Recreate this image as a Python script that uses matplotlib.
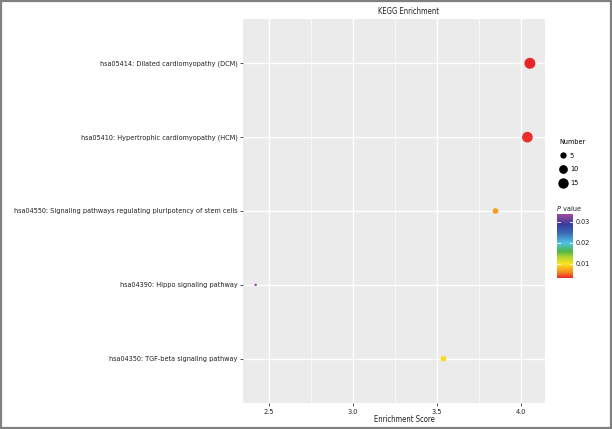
import matplotlib
matplotlib.use('Agg')
import matplotlib.pyplot as plt
import numpy as np
from matplotlib.colors import LinearSegmentedColormap, Normalize
from matplotlib.lines import Line2D
from matplotlib.patches import Rectangle
import matplotlib.font_manager as fm

# pick a narrow sans if one is installed, else Liberation Sans
narrow = None
for f in fm.fontManager.ttflist:
    st = str(f.stretch).lower()
    if f.weight in (400, 'normal', 'regular') and f.style == 'normal' and \
            ('narrow' in f.name.lower() or 'condensed' in f.name.lower()
             or st in ('condensed', 'semi-condensed', 'extra-condensed')):
        if 'mono' in f.name.lower() or 'serif' in f.name.lower() and 'sans' not in f.name.lower():
            continue
        narrow = f
        break
if narrow is not None:
    plt.rcParams['font.family'] = [narrow.name, 'DejaVu Sans']
    plt.rcParams['font.stretch'] = narrow.stretch
else:
    plt.rcParams['font.family'] = ['Liberation Sans', 'DejaVu Sans']

# data, bottom -> top
pathways = [
    'hsa04350: TGF-beta signaling pathway',
    'hsa04390: Hippo signaling pathway',
    'hsa04550: Signaling pathways regulating pluripotency of stem cells',
    'hsa05410: Hypertrophic cardiomyopathy (HCM)',
    'hsa05414: Dilated cardiomyopathy (DCM)',
]
enrich = [3.54, 2.42, 3.85, 4.04, 4.055]
number = [4, 2, 4, 16, 17]
pvalue = [0.0095, 0.0338, 0.0068, 0.0036, 0.0033]

size_breaks = [5, 10, 15]
p_ticks = [0.01, 0.02, 0.03]

# colour scale (bottom -> top of colour bar)
nodes = [0.0, 0.09, 0.22, 0.32, 0.42, 0.55, 0.70, 0.84, 1.0]
cols = ['#e8262a', '#f58a1f', '#fbe51f', '#b9d532', '#4fb64a', '#50c3e6',
        '#3b6cb7', '#3a3d9b', '#9d4a9e']
cmap = LinearSegmentedColormap.from_list('pv', list(zip(nodes, cols)))
norm = Normalize(vmin=min(pvalue), vmax=max(pvalue))

# ggplot-like size scale: diameter in px
nmin, nmax = min(number), max(number)
d_lo, d_hi = 2.5, 11.0
def diam_pt(v):
    t = (v - nmin) / (nmax - nmin)
    return (d_lo + np.sqrt(t) * (d_hi - d_lo)) * 0.72

W, H = 612, 429
fig = plt.figure(figsize=(W / 100, H / 100), dpi=100)

# fit font size so the longest label fits left of the panel
r = fig.canvas.get_renderer()
probe = fig.text(0, 0, max(pathways, key=len), fontsize=10)
wpx = probe.get_window_extent(r).width
probe.remove()
fs = min(6.5, 10 * 222 / wpx)

ax = fig.add_axes([243 / W, 1 - 403 / H, 302 / W, 384 / H])
ax.set_facecolor('#ebebeb')

ypos = np.arange(1, len(pathways) + 1)
sizes = [diam_pt(v) ** 2 for v in number]
ax.scatter(enrich, ypos, s=sizes, c=pvalue, cmap=cmap, norm=norm,
           linewidths=0, zorder=3)

ax.set_xlim(2.345, 4.145)
ax.set_ylim(0.4, 5.6)
ax.set_xticks([2.5, 3.0, 3.5, 4.0])
ax.set_xticks([2.75, 3.25, 3.75], minor=True)
ax.set_yticks(ypos, pathways)
ax.grid(which='major', color='white', lw=1.0)
ax.grid(which='minor', axis='x', color='white', lw=0.5)
ax.set_axisbelow(True)
for s in ax.spines.values():
    s.set_visible(False)
ax.tick_params(axis='both', which='major', length=2.5, width=0.6,
               color='#333333', labelsize=fs, labelcolor='#222222', pad=1.5)
ax.tick_params(axis='x', which='minor', length=0)

fig.text(408 / W, 1 - 11 / H, 'KEGG Enrichment', ha='center', va='center',
         fontsize=fs * 1.05, color='#222222')
fig.text(404 / W, 1 - 420 / H, 'Enrichment Score', ha='center', va='center',
         fontsize=fs * 1.05, color='#222222')

# size legend
handles = [Line2D([], [], ls='', marker='o', color='black',
                  markersize=diam_pt(b), markeredgewidth=0) for b in size_breaks]
leg = fig.legend(handles, [str(b) for b in size_breaks], title='Number',
                 loc='upper left', bbox_to_anchor=(554 / W, 1 - 134 / H),
                 frameon=False, fontsize=fs, title_fontsize=fs,
                 handlelength=1.0, handletextpad=0.5, labelspacing=1.05,
                 borderpad=0.2, alignment='left')

# colour bar
cax = fig.add_axes([557 / W, 1 - 278 / H, 16 / W, 64 / H])
sm = plt.cm.ScalarMappable(norm=norm, cmap=cmap)
cb = fig.colorbar(sm, cax=cax, ticks=p_ticks)
cb.outline.set_visible(False)
cb.ax.set_yticklabels([f'{t:.2f}' for t in p_ticks])
cb.ax.tick_params(length=0, labelsize=fs, labelcolor='#222222', pad=2)
for t in p_ticks:
    cax.axhline(t, xmin=0, xmax=0.2, color='white', lw=0.6)
    cax.axhline(t, xmin=0.8, xmax=1, color='white', lw=0.6)
fig.text(557 / W, 1 - 209 / H, 'P', style='italic', fontsize=fs,
         ha='left', va='center', color='#222222')
fig.text(561 / W, 1 - 209 / H, ' value', fontsize=fs, ha='left',
         va='center', color='#222222')

# outer frame
fig.patches.append(Rectangle((0.001, 0.002), 0.997, 0.996, transform=fig.transFigure,
                             fill=False, edgecolor='#808080', lw=1.6))

fig.savefig('out.png', dpi=100)
